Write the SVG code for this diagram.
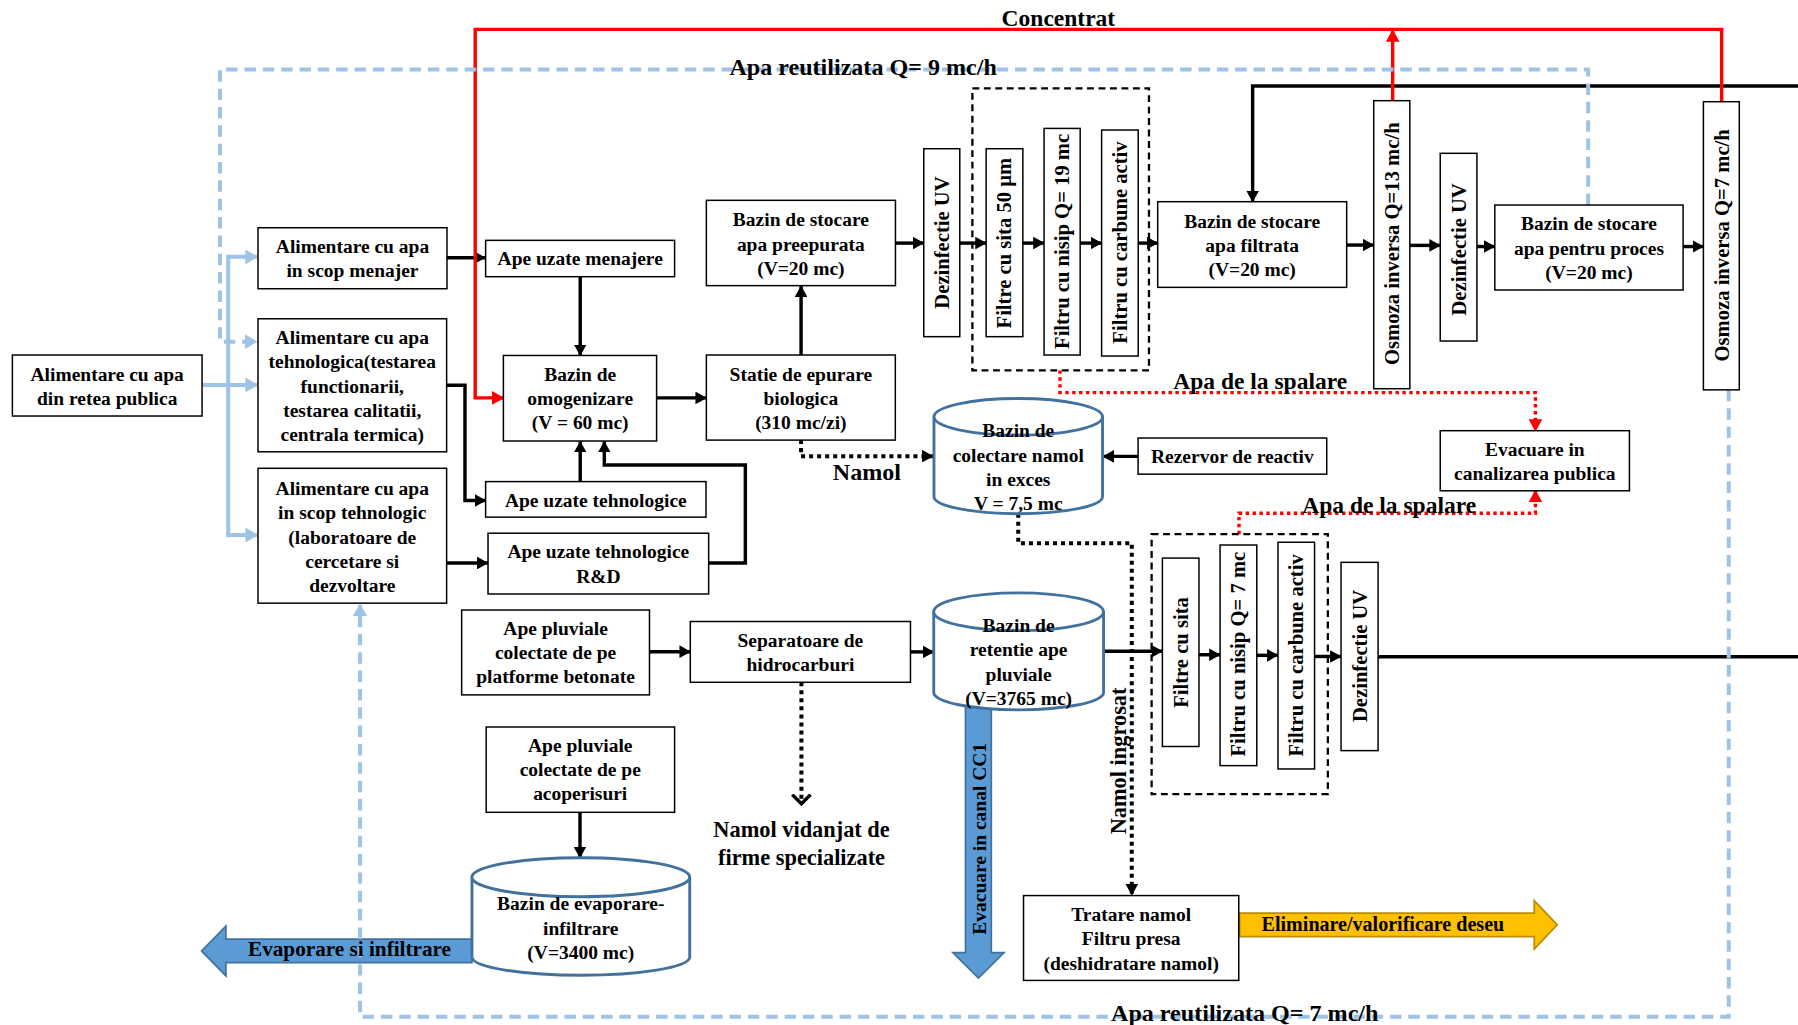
<svg xmlns="http://www.w3.org/2000/svg" width="1798" height="1025" viewBox="0 0 1798 1025">
<style>
.box{fill:#fff;stroke:#000;stroke-width:1.3}
.grp{fill:none;stroke:#000;stroke-width:2;stroke-dasharray:6 4}
.cyl{fill:#fff;stroke:#41719C;stroke-width:2.5}
.t{font-family:"Liberation Serif","Times New Roman",serif;font-weight:bold;font-size:17px;text-anchor:middle;fill:#000}
.tv{font-size:18px}
.lbl{font-size:20.5px}
.conn{fill:none;stroke:#000;stroke-width:3}
.red{fill:none;stroke:#f00;stroke-width:3}
.blue{fill:none;stroke:#9DC3E6;stroke-width:3.5}
.bd{stroke-dasharray:10 6}
.dot{fill:none;stroke:#000;stroke-width:3.5;stroke-dasharray:3.5 3.5}
.rdot{fill:none;stroke:#f00;stroke-width:3;stroke-dasharray:3 3}
.big{fill:#5B9BD5;stroke:#41719C;stroke-width:1.5}
.yel{fill:#FFC000;stroke:#BC8C00;stroke-width:1.5}
</style>
<defs>
<marker id="ah" markerUnits="userSpaceOnUse" markerWidth="11" markerHeight="11" refX="9.5" refY="5.5" orient="auto"><path d="M0,0 L10,5.5 L0,11 z" fill="#000"/></marker>
<marker id="ahr" markerUnits="userSpaceOnUse" markerWidth="12" markerHeight="12" refX="10" refY="6" orient="auto"><path d="M0,0 L11,6 L0,12 z" fill="#f00"/></marker>
<marker id="ahb" markerUnits="userSpaceOnUse" markerWidth="12" markerHeight="13" refX="10" refY="6.5" orient="auto"><path d="M0,0 L11,6.5 L0,13 z" fill="#9DC3E6"/></marker>
<marker id="chev" markerUnits="userSpaceOnUse" markerWidth="14" markerHeight="20" refX="9" refY="9" orient="auto"><path d="M1,1 L9,9 L1,17" fill="none" stroke="#000" stroke-width="3"/></marker>
</defs>
<rect width="1798" height="1025" fill="#fff"/>
<g transform="scale(1.146684)">

<g id="arrow-evaporare">
<polygon class="big" points="411.6,819 197,819 197,807.6 175.8,829.3 197,851 197,839.5 411.6,839.5"/>
</g>
<g id="arrow-evacuare-cc1">
<polygon class="big" points="842,612 864.5,612 864.5,830.8 875.6,830.8 853.3,853 831,830.8 842,830.8"/>
</g>
<g id="arrow-eliminare">
<polygon class="yel" points="1081,796.4 1338,796.4 1338,785.4 1358,806.5 1338,827.6 1338,816.8 1081,816.8"/>
<text class="t" x="1206" y="811.5" style="font-size:17.5px">Eliminare/valorificare deseu</text>
</g>

<g id="connectors">
<path class="conn" d="M389.5,224.7 H423" marker-end="url(#ah)"/>
<path class="conn" d="M506,241 V310" marker-end="url(#ah)"/>
<path class="conn" d="M389.5,336 H405.5 V436.5 H423.5" marker-end="url(#ah)"/>
<path class="conn" d="M506,420 V385" marker-end="url(#ah)"/>
<path class="conn" d="M389.5,491 H425.5" marker-end="url(#ah)"/>
<path class="conn" d="M618,491 H650 V405.6 H527 V385" marker-end="url(#ah)"/>
<path class="conn" d="M572.6,347 H616" marker-end="url(#ah)"/>
<path class="conn" d="M698.6,309.6 V249.5" marker-end="url(#ah)"/>
<path class="conn" d="M781,212 H805.6" marker-end="url(#ah)"/>
<path class="conn" d="M837,212 H860" marker-end="url(#ah)"/>
<path class="conn" d="M892,212 H910.5" marker-end="url(#ah)"/>
<path class="conn" d="M942,212 H960.7" marker-end="url(#ah)"/>
<path class="conn" d="M992.6,212 H1009.6" marker-end="url(#ah)"/>
<path class="conn" d="M1174.4,213.7 H1198" marker-end="url(#ah)"/>
<path class="conn" d="M1229.5,214 H1256" marker-end="url(#ah)"/>
<path class="conn" d="M1288,215 H1303.6" marker-end="url(#ah)"/>
<path class="conn" d="M1467.8,215 H1485.5" marker-end="url(#ah)"/>
<path class="conn" d="M1570,75 H1092.4 V175.9" marker-end="url(#ah)"/>
<path class="conn" d="M992.5,398 H962" marker-end="url(#ah)"/>
<path class="conn" d="M566.4,568.3 H602" marker-end="url(#ah)"/>
<path class="conn" d="M794,568.5 H814.3" marker-end="url(#ah)"/>
<path class="conn" d="M962.4,568 H1013.7" marker-end="url(#ah)"/>
<path class="conn" d="M1045.6,571 H1064" marker-end="url(#ah)"/>
<path class="conn" d="M1096,571.5 H1114.5" marker-end="url(#ah)"/>
<path class="conn" d="M1146.4,572.5 H1169.5" marker-end="url(#ah)"/>
<path class="conn" d="M1201.8,572.7 H1570"/>
<path class="conn" d="M505.8,708.4 V748" marker-end="url(#ah)"/>
<path class="red" d="M1501.4,88.7 V25.6 H414.4 V347 H439" marker-end="url(#ahr)"/>
<path class="red" d="M1214.5,87.8 V26.5" marker-end="url(#ahr)"/>
<path class="blue" d="M176.2,335.7 H224" marker-end="url(#ahb)"/>
<path class="blue" d="M199,466.6 V224 H224" marker-end="url(#ahb)"/>
<path class="blue" d="M197.25,466.6 H224" marker-end="url(#ahb)"/>
<path class="blue bd" d="M1385,178.8 V60.6 H191.9 V298 H223.5" marker-end="url(#ahb)"/>
<path class="blue bd" d="M1507.6,340 V886.6 H314 V527.6" marker-end="url(#ahb)"/>
<path class="dot" d="M698.6,383.8 V397.8 H813.6" marker-end="url(#ah)"/>
<path class="dot" d="M888,448 V473.7 H987 V780.5" marker-end="url(#ah)"/>
<path class="dot" d="M698.9,595 V701" marker-end="url(#chev)"/>
<path class="rdot" d="M924.4,323 V342.4 H1339 V375.6" marker-end="url(#ahr)"/>
<path class="rdot" d="M1080.5,465.8 V447.6 H1339 V428" marker-end="url(#ahr)"/>
</g>

<g id="labels">
<text class="t lbl" x="923" y="22.7">Concentrat</text>
<text class="t" x="752.7" y="65.5" style="font-size:21px">Apa reutilizata Q= 9 mc/h</text>
<text class="t lbl" x="1099" y="339">Apa de la spalare</text>
<text class="t lbl" x="1211.5" y="447.5">Apa de la spalare</text>
<text class="t" x="756" y="418.5" style="font-size:21px">Namol</text>
<text class="t" x="699" y="730" style="font-size:19.5px">Namol vidanjat de</text>
<text class="t" x="699" y="754" style="font-size:19.5px">firme specializate</text>
<text class="t" transform="translate(982.3,663.6) rotate(-90)" style="font-size:19.5px">Namol ingrosat</text>
<text class="t" x="1085.5" y="890" style="font-size:21px">Apa reutilizata Q= 7 mc/h</text>
<text class="t" x="304.8" y="833.5" style="font-size:18.5px">Evaporare si infiltrare</text>
<text class="t" transform="translate(859.5,731.5) rotate(-90)">Evacuare in canal CC1</text>
</g>

<g id="n-retea"><rect class="box" x="10.8" y="309.6" width="165.4" height="53.2"/>
<text class="t" x="93.5" y="332.5">Alimentare cu apa</text><text class="t" x="93.5" y="353.5">din retea publica</text></g>

<g id="n-menajer"><rect class="box" x="225" y="198.6" width="164.8" height="53.2"/>
<text class="t" x="307.4" y="220.5">Alimentare cu apa</text><text class="t" x="307.4" y="241.5">in scop menajer</text></g>

<g id="n-tehnologica"><rect class="box" x="225" y="278" width="164.5" height="116"/>
<text class="t" x="307.2" y="300">Alimentare cu apa</text>
<text class="t" x="307.2" y="321">tehnologica(testarea</text>
<text class="t" x="307.2" y="342.5">functionarii,</text>
<text class="t" x="307.2" y="363.5">testarea calitatii,</text>
<text class="t" x="307.2" y="384.5">centrala termica)</text></g>

<g id="n-tehnologic-rd"><rect class="box" x="225" y="408.4" width="164.5" height="117.6"/>
<text class="t" x="307.2" y="431.5">Alimentare cu apa</text>
<text class="t" x="307.2" y="452.5">in scop tehnologic</text>
<text class="t" x="307.2" y="474">(laboratoare de</text>
<text class="t" x="307.2" y="495">cercetare si</text>
<text class="t" x="307.2" y="516">dezvoltare</text></g>

<g id="n-ape-menajere"><rect class="box" x="423.5" y="209.6" width="164.8" height="31.7"/>
<text class="t" x="506" y="231.5">Ape uzate menajere</text></g>

<g id="n-omogenizare"><rect class="box" x="439" y="310" width="133.6" height="74.6"/>
<text class="t" x="506" y="332.5">Bazin de</text><text class="t" x="506" y="353.5">omogenizare</text><text class="t" x="506" y="374.5">(V = 60 mc)</text></g>

<g id="n-ape-tehnologice"><rect class="box" x="423.5" y="420" width="192.2" height="31"/>
<text class="t" x="519.6" y="442">Ape uzate tehnologice</text></g>

<g id="n-ape-rd"><rect class="box" x="425.6" y="465" width="192.4" height="53"/>
<text class="t" x="521.8" y="487">Ape uzate tehnologice</text><text class="t" x="521.8" y="508">R&amp;D</text></g>

<g id="n-statie"><rect class="box" x="616" y="309.6" width="164.8" height="74.2"/>
<text class="t" x="698.4" y="332.5">Statie de epurare</text><text class="t" x="698.4" y="353.5">biologica</text><text class="t" x="698.4" y="374.5">(310 mc/zi)</text></g>

<g id="n-preepurata"><rect class="box" x="616" y="174.7" width="164.9" height="74.4"/>
<text class="t" x="698.4" y="197">Bazin de stocare</text><text class="t" x="698.4" y="218.5">apa preepurata</text><text class="t" x="698.4" y="239.5">(V=20 mc)</text></g>

<g id="n-uv1"><rect class="box" x="805.6" y="129.7" width="31.4" height="163.9"/>
<text class="t tv" transform="translate(827.5,211.5) rotate(-90)">Dezinfectie UV</text></g>

<g id="g-filtre1"><rect class="grp" x="848" y="77" width="154" height="246"/></g>

<g id="n-sita50"><rect class="box" x="860" y="129.7" width="32" height="163.9"/>
<text class="t tv" transform="translate(882,212) rotate(-90)">Filtre cu sita 50 µm</text></g>

<g id="n-nisip19"><rect class="box" x="910.5" y="112" width="31.5" height="197.6"/>
<text class="t tv" transform="translate(932.5,210.5) rotate(-90)">Filtru cu nisip Q= 19 mc</text></g>

<g id="n-carbune1"><rect class="box" x="960.7" y="113.4" width="31.9" height="197.1"/>
<text class="t tv" transform="translate(983,211.5) rotate(-90)">Filtru cu carbune activ</text></g>

<g id="n-filtrata"><rect class="box" x="1009.6" y="175.9" width="164.8" height="74.7"/>
<text class="t" x="1092" y="198.5">Bazin de stocare</text><text class="t" x="1092" y="219.5">apa filtrata</text><text class="t" x="1092" y="240.5">(V=20 mc)</text></g>

<g id="n-osmoza13"><rect class="box" x="1198" y="87.8" width="31.5" height="251.2"/>
<text class="t tv" transform="translate(1220,212.5) rotate(-90)">Osmoza inversa Q=13 mc/h</text></g>

<g id="n-uv2"><rect class="box" x="1256" y="133.7" width="32" height="163.7"/>
<text class="t tv" transform="translate(1278.3,217.5) rotate(-90)">Dezinfectie UV</text></g>

<g id="n-proces"><rect class="box" x="1303.6" y="178.8" width="164.2" height="74.1"/>
<text class="t" x="1385.7" y="201">Bazin de stocare</text><text class="t" x="1385.7" y="222">apa pentru proces</text><text class="t" x="1385.7" y="243">(V=20 mc)</text></g>

<g id="n-osmoza7"><rect class="box" x="1485.5" y="88.7" width="31.3" height="251.3"/>
<text class="t tv" transform="translate(1507.5,214) rotate(-90)">Osmoza inversa Q=7 mc/h</text></g>

<g id="n-colectare-namol">
<path class="cyl" d="M814.5,363.5 V433 A73.5,15 0 0 0 961.5,433 V363.5"/>
<ellipse class="cyl" cx="888" cy="363.5" rx="73.5" ry="16"/>
<text class="t" x="888" y="381">Bazin de</text><text class="t" x="888" y="402.5">colectare namol</text><text class="t" x="888" y="423.5">in exces</text><text class="t" x="888" y="444.5">V = 7,5 mc</text></g>

<g id="n-rezervor"><rect class="box" x="992.5" y="382" width="164.5" height="31.5"/>
<text class="t" x="1074.7" y="404">Rezervor de reactiv</text></g>

<g id="n-evacuare-canalizare"><rect class="box" x="1256" y="375.6" width="165" height="52.4"/>
<text class="t" x="1338.5" y="397.5">Evacuare in</text><text class="t" x="1338.5" y="418.5">canalizarea publica</text></g>

<g id="g-filtre2"><rect class="grp" x="1004.3" y="465.8" width="153.7" height="226.7"/></g>

<g id="n-sita"><rect class="box" x="1013.7" y="486.7" width="31.9" height="164.3"/>
<text class="t tv" transform="translate(1035.7,569) rotate(-90)">Filtre cu sita</text></g>

<g id="n-nisip7"><rect class="box" x="1064" y="475.3" width="32" height="192.4"/>
<text class="t tv" transform="translate(1086,570.5) rotate(-90)">Filtru cu nisip Q= 7 mc</text></g>

<g id="n-carbune2"><rect class="box" x="1114.5" y="472.9" width="31.9" height="197.7"/>
<text class="t tv" transform="translate(1136.5,571.5) rotate(-90)">Filtru cu carbune activ</text></g>

<g id="n-uv3"><rect class="box" x="1169.5" y="490.4" width="32.3" height="164.2"/>
<text class="t tv" transform="translate(1191.7,572) rotate(-90)">Dezinfectie UV</text></g>

<g id="n-retentie">
<path class="cyl" d="M814.3,533.5 V604 A74,15 0 0 0 962.4,604 V533.5"/>
<ellipse class="cyl" cx="888.3" cy="533.5" rx="74" ry="16.5"/>
<text class="t" x="888.3" y="551">Bazin de</text><text class="t" x="888.3" y="572.5">retentie ape</text><text class="t" x="888.3" y="593.5">pluviale</text><text class="t" x="888.3" y="614.5">(V=3765 mc)</text></g>

<g id="n-pluviale-betonate"><rect class="box" x="402.6" y="532" width="163.8" height="74"/>
<text class="t" x="484.5" y="554">Ape pluviale</text><text class="t" x="484.5" y="575">colectate de pe</text><text class="t" x="484.5" y="596">platforme betonate</text></g>

<g id="n-separatoare"><rect class="box" x="602" y="542" width="192" height="53"/>
<text class="t" x="698" y="564">Separatoare de</text><text class="t" x="698" y="585">hidrocarburi</text></g>

<g id="n-pluviale-acoperisuri"><rect class="box" x="424" y="634" width="164.3" height="74.4"/>
<text class="t" x="506" y="656">Ape pluviale</text><text class="t" x="506" y="677">colectate de pe</text><text class="t" x="506" y="698">acoperisuri</text></g>

<g id="n-evaporare">
<path class="cyl" d="M411.6,765 V835 A95,16 0 0 0 601.5,835 V765"/>
<ellipse class="cyl" cx="506.5" cy="765" rx="95" ry="17"/>
<text class="t" x="506.5" y="793.5">Bazin de evaporare-</text><text class="t" x="506.5" y="815">infiltrare</text><text class="t" x="506.5" y="836">(V=3400 mc)</text></g>

<g id="n-tratare"><rect class="box" x="892.6" y="781" width="187.7" height="74"/>
<text class="t" x="986.5" y="803.5">Tratare namol</text><text class="t" x="986.5" y="824.5">Filtru presa</text><text class="t" x="986.5" y="845.5">(deshidratare namol)</text></g>

</g>
</svg>
